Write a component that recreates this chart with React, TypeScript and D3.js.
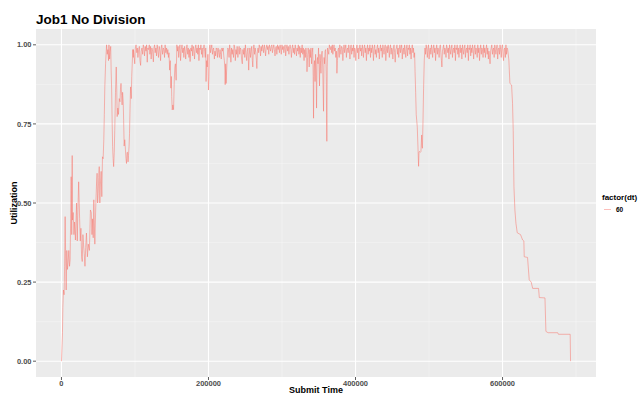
import React, { useEffect, useRef } from 'react';
import * as d3 from 'd3';

// submit time in thousands, utilization 0..1
const rampPoints: [number, number][] = [
  [0, 0], [1.4, 0.09], [1.9, 0.17], [2.7, 0.225], [3.6, 0.21], [4.3, 0.3], [5, 0.457], [5.6, 0.35],
  [6.4, 0.225], [7.3, 0.35], [8.2, 0.29], [9, 0.31], [10, 0.35], [11, 0.3], [11.8, 0.32], [12.5, 0.45],
  [13.2, 0.583], [14, 0.4], [14.6, 0.65], [15, 0.446], [16, 0.47], [17, 0.4], [17.8, 0.44], [19, 0.383],
  [20, 0.46], [20.6, 0.5], [21.5, 0.38], [22.4, 0.48], [23.4, 0.567], [24.7, 0.45], [25.6, 0.38], [26.5, 0.42],
  [27.4, 0.33], [28.3, 0.315], [29.2, 0.4], [30, 0.37], [31, 0.34], [32, 0.3], [33, 0.36], [34, 0.405],
  [35.3, 0.33], [36.5, 0.37], [38, 0.35], [38.8, 0.42], [39.4, 0.478], [40.6, 0.47], [41.5, 0.4], [42.4, 0.45],
  [43.2, 0.39], [44, 0.51], [45.4, 0.37], [46.1, 0.44], [46.8, 0.5], [47.7, 0.56], [48.5, 0.594], [49.2, 0.5],
  [50, 0.53], [50.7, 0.58], [51.4, 0.615], [52.2, 0.5], [53, 0.56], [54, 0.6], [54.9, 0.52], [55.8, 0.646],
  [56.7, 0.64], [57.6, 0.7], [58.3, 0.78], [59, 0.867], [60, 0.94], [60.7, 0.97], [61.4, 1.0], [62.3, 0.97],
  [63.2, 0.985], [64, 0.95], [64.6, 1.0], [65.5, 0.955], [66.2, 0.98], [67, 0.995], [67.6, 0.92], [68.3, 0.857],
  [69, 0.75], [69.6, 0.678], [70.3, 0.64], [71, 0.615], [71.8, 0.66], [72.5, 0.73], [73.5, 0.85], [74.5, 0.93],
  [75.2, 0.86], [75.8, 0.773], [76.7, 0.8], [77.6, 0.78], [78.6, 0.83], [79.6, 0.82], [80.3, 0.86], [81, 0.878],
  [81.8, 0.84], [82.5, 0.81], [83.2, 0.85], [84, 0.82], [84.6, 0.76], [85.3, 0.68], [86.1, 0.7], [87, 0.67],
  [87.8, 0.64], [88.5, 0.625], [89.3, 0.66], [90, 0.66], [90.6, 0.63], [91.2, 0.65], [92, 0.68], [92.6, 0.72],
  [93.3, 0.8], [94, 0.867], [95, 0.83], [95.6, 0.9], [96.3, 0.94], [97, 0.985], [97.8, 0.96],
];

const plateauPoints: [number, number][] = [
  [98, 0.985], [99, 0.96], [99.7, 0.94], [100.5, 0.99], [101.5, 1.0], [102.5, 0.975], [103.2, 0.99], [104, 0.96],
  [105, 0.985], [106, 0.995], [106.8, 0.95], [107.7, 0.935], [108.5, 0.98], [109.5, 0.99], [110.5, 0.97], [111.3, 1.0],
  [112.2, 0.99], [113, 0.965], [114, 0.995], [115, 0.98], [115.8, 1.0], [116.7, 0.945], [117.5, 0.99], [118.5, 0.985],
  [119.5, 1.0], [120.3, 0.97], [121.2, 0.995], [122, 0.955], [123, 0.99], [124, 0.98], [125, 0.946], [125.8, 0.99],
  [126.7, 1.0], [127.5, 0.975], [128.5, 0.99], [129.3, 0.965], [130.2, 1.0], [131, 0.985], [132, 0.96], [133, 0.995],
  [134, 0.98], [134.8, 0.95], [135.7, 0.99], [136.5, 1.0], [137.5, 0.97], [138.5, 0.99], [139.3, 0.985], [140.2, 0.96],
  [141, 1.0], [142, 0.975], [143, 0.99], [143.8, 0.97], [144.7, 0.985], [145.5, 0.96], [146.3, 0.975], [147.2, 0.92],
  [148, 0.95], [148.8, 0.863], [149.5, 0.9], [150, 0.836], [150.7, 0.794], [151.5, 0.81], [152.5, 0.795], [153.5, 0.89],
  [154.3, 0.93], [155, 0.94], [156, 0.888], [157, 1.0], [157.8, 0.98], [158.7, 0.995], [159.5, 0.96], [160.4, 0.99],
  [161.2, 1.0], [162, 0.95], [163, 0.985], [164, 1.0], [164.8, 0.975], [165.7, 0.99], [166.5, 0.96], [167.4, 0.995],
  [168.2, 0.98], [169, 0.955], [170, 0.99], [170.8, 1.0], [171.7, 0.97], [172.5, 0.99], [173.4, 0.96], [174.2, 0.985],
  [175, 0.947], [176, 0.99], [176.8, 0.98], [177.7, 1.0], [178.5, 0.965], [179.4, 0.995], [180.2, 0.985], [181, 0.955],
  [182, 0.99], [182.8, 1.0], [183.7, 0.975], [184.5, 0.99], [185.4, 0.97], [186.2, 1.0], [187, 0.95], [188, 0.99],
  [188.8, 0.985], [189.7, 1.0], [190.5, 0.97], [191.4, 0.99], [192.2, 0.96], [193, 0.985], [194, 1.0], [194.8, 0.98],
  [195.6, 0.96], [196.3, 0.99], [196.7, 0.884], [197.5, 0.95], [198.3, 0.93], [199.2, 0.97], [200, 0.857], [200.6, 0.9],
  [201.2, 0.99], [202, 1.0], [202.8, 0.975], [203.7, 0.99], [204.5, 1.0], [205.4, 0.97], [206.2, 0.985], [207, 0.99],
  [208, 0.955], [208.8, 0.98], [209.7, 0.965], [210.5, 0.99], [211.4, 0.985], [212.2, 0.96], [213, 0.99], [214, 0.975],
  [214.8, 0.96], [215.7, 0.985], [216.5, 0.97], [217.4, 0.955], [218.2, 0.99], [219, 0.98], [220, 0.99], [220.8, 0.965],
  [221.6, 0.95], [222.3, 0.92], [222.7, 0.874], [223.4, 0.94], [224, 0.878], [224.7, 0.92], [225.5, 0.96], [226.3, 0.99],
  [227.2, 0.985], [228, 0.96], [228.8, 1.0], [229.7, 0.98], [230.5, 0.945], [231.4, 0.99], [232.2, 0.97], [233, 0.985],
  [234, 0.96], [234.8, 1.0], [235.7, 0.99], [236.5, 0.95], [237.4, 0.985], [238.2, 0.97], [239, 0.995], [240, 0.96],
  [240.8, 0.98], [241.7, 0.995], [242.5, 0.97], [243.4, 0.99], [244.2, 0.985], [245, 0.955], [246, 0.94], [246.8, 0.985],
  [247.7, 0.97], [248.5, 0.99], [249.4, 0.96], [250.2, 1.0], [251, 0.975], [252, 0.95], [252.8, 0.98], [253.7, 0.99],
  [254.7, 0.92], [255.5, 0.97], [256.3, 0.99], [257.2, 0.96], [258, 0.98], [258.8, 0.995], [259.6, 0.95], [260.3, 0.93],
  [261, 0.985], [261.8, 1.0], [262.7, 0.97], [263.5, 0.99], [264.4, 0.975], [265.2, 0.95], [265.8, 0.925], [266.6, 0.98],
  [267.4, 0.99], [268.2, 0.975], [269, 1.0], [270, 0.99], [270.8, 0.965], [271.7, 0.995], [272.5, 0.98], [273.4, 1.0],
  [274.2, 0.99], [275, 0.975], [276, 1.0], [276.8, 0.985], [277.7, 0.965], [278.5, 0.99], [279.4, 1.0], [280.2, 0.985],
  [281, 0.995], [282, 0.97], [282.8, 1.0], [283.7, 0.99], [284.5, 0.98], [285.4, 0.995], [286.2, 1.0], [287, 0.975],
  [288, 0.99], [288.8, 1.0], [289.7, 0.985], [290.5, 0.965], [291.4, 0.99], [292.2, 0.995], [293, 0.97], [294, 1.0],
  [294.8, 0.985], [295.7, 0.995], [296.5, 0.975], [297.4, 1.0], [298.2, 0.99], [299, 0.97], [300, 1.0], [300.8, 0.985],
  [301.7, 0.995], [302.5, 0.975], [303.4, 0.99], [304.2, 1.0], [305, 0.965], [306, 0.99], [306.8, 1.0], [307.7, 0.98],
  [308.5, 0.995], [309.4, 0.97], [310.2, 0.99], [311, 1.0], [312, 0.985], [312.8, 0.96], [313.7, 0.99], [314.5, 1.0],
  [315.4, 0.975], [316.2, 0.99], [317, 0.97], [318, 1.0], [318.8, 0.985], [319.7, 0.965], [320.5, 0.99], [321.4, 0.98],
  [322.2, 1.0], [323, 0.97], [324, 0.995], [324.8, 0.96], [325.7, 0.99], [326.5, 0.975], [327.4, 1.0], [328.2, 0.97],
  [329, 0.99], [330, 0.95], [330.8, 0.985], [331.7, 0.96], [332.5, 0.99], [333.4, 0.97], [334, 0.915], [334.8, 0.96],
  [335.6, 0.99], [336.4, 0.97], [337, 0.93], [337.8, 0.985], [338.6, 0.96], [339.4, 0.99], [340.2, 0.94], [341, 0.975],
  [341.8, 0.99], [342.4, 0.9], [342.9, 0.768], [343.5, 0.93], [344.2, 0.95], [345, 0.884], [345.7, 0.97], [346.4, 0.92],
  [347, 0.8], [347.7, 0.95], [348.3, 0.96], [349, 0.94], [349.7, 0.99], [350.4, 0.93], [351, 0.87], [351.7, 0.97],
  [352.3, 0.95], [353, 0.91], [353.8, 0.97], [354.6, 0.98], [355.4, 0.93], [356, 0.85], [356.5, 0.79], [357.2, 0.96],
  [357.9, 0.94], [358.6, 0.98], [359.4, 0.985], [360.2, 0.9], [361, 0.695], [361.5, 0.93], [362, 0.99], [362.8, 0.98],
  [363.6, 0.97], [364.4, 1.0], [365.2, 0.99], [366, 0.985], [366.8, 0.995], [367.6, 0.975], [368.4, 1.0], [369.2, 0.97],
  [370, 0.99], [370.8, 1.0], [371.6, 0.98], [372.4, 0.99], [373.2, 0.96], [374, 0.98], [374.7, 0.91], [375.4, 0.95],
  [376.2, 0.985], [377, 0.99], [377.8, 0.96], [378.6, 1.0], [379.4, 0.985], [380.2, 0.97], [381, 0.995], [382, 0.99],
  [382.8, 0.95], [383.6, 0.985], [384.4, 1.0], [385.2, 0.975], [386, 0.99], [386.8, 1.0], [387.6, 0.96], [388.4, 0.985],
  [389.2, 0.99], [390, 0.975], [390.8, 1.0], [391.6, 0.985], [392.4, 0.955], [393.2, 0.99], [394, 1.0], [394.8, 0.97],
  [395.6, 0.99], [396.4, 0.98], [397.2, 1.0], [398, 0.96], [398.8, 0.99], [399.6, 0.985], [400.4, 0.95], [401.2, 0.99],
  [402, 1.0], [402.8, 0.975], [403.6, 0.99], [404.4, 0.955], [405.2, 0.985], [406, 1.0], [406.8, 0.98], [407.6, 0.99],
  [408.4, 0.965], [409.2, 1.0], [410, 0.985], [410.8, 0.96], [411.6, 0.99], [412.4, 1.0], [413.2, 0.975], [414, 0.99],
  [414.8, 0.95], [415.6, 0.985], [416.4, 1.0], [417.2, 0.97], [418, 0.99], [418.8, 0.98], [419.6, 1.0], [420.4, 0.96],
  [421.2, 0.99], [422, 0.975], [422.8, 1.0], [423.6, 0.985], [424.4, 0.95], [425.2, 0.99], [426, 1.0], [426.8, 0.97],
  [427.6, 0.985], [428.4, 0.96], [429.2, 0.99], [430, 1.0], [430.8, 0.975], [431.6, 0.99], [432.4, 0.955], [433.2, 0.985],
  [434, 1.0], [434.8, 0.98], [435.6, 0.99], [436.4, 0.96], [437.2, 1.0], [438, 0.985], [438.8, 0.97], [439.6, 0.99],
  [440.4, 1.0], [441.2, 0.95], [442, 0.98], [442.8, 0.995], [443.6, 0.975], [444.4, 1.0], [445.2, 0.985], [446, 0.96],
  [446.8, 0.99], [447.6, 1.0], [448.4, 0.97], [449.2, 0.99], [450, 0.985], [450.8, 0.955], [451.6, 0.99], [452.4, 1.0],
  [453.2, 0.975], [454, 0.945], [454.8, 0.985], [455.6, 0.99], [456.4, 1.0], [457.2, 0.97], [458, 0.99], [458.8, 0.96],
  [459.6, 0.985], [460.4, 1.0], [461.2, 0.975], [462, 0.99], [462.8, 1.0], [463.6, 0.955], [464.4, 0.985], [465.2, 0.99],
  [466, 0.97], [466.8, 1.0], [467.6, 0.98], [468.4, 0.96], [469.2, 0.99], [470, 1.0], [470.8, 0.965], [471.6, 0.99],
  [472.4, 0.985], [473.2, 1.0], [474, 0.97], [474.8, 0.99], [475.6, 0.955], [476.4, 0.985], [477.2, 1.0], [478, 0.975],
  [478.8, 0.99], [479.6, 0.96], [480.4, 0.975], [481, 0.916], [481.8, 0.85], [482.6, 0.779], [483.3, 0.76], [484, 0.74],
  [484.9, 0.68], [485.8, 0.616], [486.4, 0.66], [487, 0.663], [488, 0.66], [489, 0.663], [489.5, 0.69], [490, 0.715],
  [490.5, 0.68], [491, 0.673], [491.8, 0.76], [492.6, 0.863], [493.5, 0.95], [494.5, 0.99], [495.3, 0.97], [496.1, 1.0],
  [496.9, 0.985], [497.7, 0.96], [498.5, 0.99], [499.3, 1.0], [500.1, 0.955], [500.9, 0.985], [501.7, 0.99], [502.5, 0.97],
  [503.3, 1.0], [504.1, 0.985], [504.9, 0.96], [505.7, 0.99], [506.5, 1.0], [507.3, 0.975], [508.1, 0.99], [508.9, 0.95],
  [509.7, 0.985], [510.5, 1.0], [511.3, 0.97], [512.1, 0.99], [512.9, 0.985], [513.7, 0.96], [514.5, 0.99], [515.3, 1.0],
  [516.1, 0.975], [516.9, 0.95], [517.5, 0.93], [518.3, 0.98], [519.1, 0.99], [519.9, 1.0], [520.7, 0.97], [521.5, 0.99],
  [522.3, 0.985], [523.1, 0.96], [523.9, 1.0], [524.7, 0.99], [525.5, 0.975], [526.3, 0.99], [527.1, 0.955], [527.9, 1.0],
  [528.7, 0.985], [529.5, 0.97], [530.3, 0.99], [531.1, 1.0], [531.9, 0.96], [532.7, 0.985], [533.5, 0.99], [534.3, 0.975],
  [535.1, 1.0], [535.9, 0.95], [536.7, 0.99], [537.5, 0.985], [538.3, 1.0], [539.1, 0.97], [539.9, 0.99], [540.7, 0.96],
  [541.5, 0.985], [542.3, 1.0], [543.1, 0.975], [543.9, 0.99], [544.7, 0.955], [545.5, 1.0], [546.3, 0.985], [547.1, 0.97],
  [547.9, 0.99], [548.7, 1.0], [549.5, 0.96], [550.3, 0.985], [551.1, 0.99], [551.9, 0.975], [552.7, 1.0], [553.5, 0.95],
  [554.3, 0.99], [555.1, 0.985], [555.9, 1.0], [556.7, 0.965], [557.5, 0.99], [558.3, 0.975], [559.1, 1.0], [559.9, 0.985],
  [560.7, 0.955], [561.5, 0.99], [562.3, 1.0], [563.1, 0.97], [563.9, 0.99], [564.7, 0.985], [565.5, 0.96], [566.3, 1.0],
  [567.1, 0.975], [567.9, 0.99], [568.7, 0.95], [569.5, 0.985], [570.3, 1.0], [571.1, 0.97], [571.9, 0.99], [572.7, 0.985],
  [573.5, 0.96], [574.3, 1.0], [575.1, 0.975], [575.9, 0.99], [576.7, 0.96], [577.5, 0.985], [578.3, 1.0], [579.1, 0.97],
  [579.9, 0.99], [580.7, 0.955], [581.5, 0.98], [582.3, 0.96], [583, 0.94], [583.8, 0.98], [584.6, 0.99], [585.4, 1.0],
  [586.2, 0.97], [587, 0.985], [587.8, 0.99], [588.6, 0.96], [589.4, 1.0], [590.2, 0.985], [591, 0.97], [591.8, 0.99],
  [592.6, 1.0], [593.4, 0.955], [594.2, 0.985], [595, 0.99], [595.8, 0.97], [596.6, 1.0], [597.4, 0.985], [598.2, 0.96],
  [599, 0.99], [599.8, 1.0], [600.6, 0.965], [601.4, 0.95], [602.2, 0.985], [603, 0.99], [603.8, 0.96], [604.6, 1.0],
  [605.4, 0.97], [606.2, 0.99], [607, 0.985],
];

const tailPoints: [number, number][] = [
  [608.6, 0.952], [610, 0.878], [612.3, 0.873], [613.6, 0.815], [614.5, 0.73], [615.5, 0.551], [616.8, 0.478],
  [618.2, 0.436], [620, 0.406], [624.5, 0.4], [627.3, 0.383], [629, 0.38], [629.5, 0.33], [634, 0.328],
  [636.3, 0.257], [639, 0.25], [641, 0.23], [649, 0.23], [650, 0.201], [657.7, 0.2], [659, 0.094], [662, 0.09],
  [675, 0.09], [676, 0.085], [692, 0.085], [692.5, 0],
];

const xTicks = [0, 200000, 400000, 600000];
const xMinor = [100000, 300000, 500000, 700000];
const yTicks = [0, 0.25, 0.5, 0.75, 1];
const yMinor = [0.125, 0.375, 0.625, 0.875];
const legendLevels = ['60'];

const FONT = '"Liberation Sans", Arial, Helvetica, sans-serif';
const LINE_COLOR = '#F8766D';

const App = () => {
  const svgRef = useRef<SVGSVGElement>(null);

  useEffect(() => {
    const svg = d3.select(svgRef.current);
    svg.selectAll('*').remove();

    const width = 643;
    const height = 394;
    const panel = { left: 36, right: 596, top: 29, bottom: 377 };

    const data = [...rampPoints, ...plateauPoints, ...tailPoints].map(([t, u]) => ({ t: t * 1000, u }));

    const [xmin, xmax] = d3.extent(data, d => d.t) as [number, number];
    const xPad = (xmax - xmin) * 0.05;
    const xScale = d3.scaleLinear()
      .domain([xmin - xPad, xmax + xPad])
      .range([panel.left, panel.right]);

    const yScale = d3.scaleLinear()
      .domain([-0.05, 1.05])
      .range([panel.bottom, panel.top]);

    svg.attr('width', width).attr('height', height)
      .style('display', 'block')
      .style('font-family', FONT);

    svg.append('rect')
      .attr('width', width).attr('height', height)
      .attr('fill', '#ffffff');

    // panel
    svg.append('rect')
      .attr('x', panel.left).attr('y', panel.top)
      .attr('width', panel.right - panel.left)
      .attr('height', panel.bottom - panel.top)
      .attr('fill', '#EBEBEB');

    const grid = svg.append('g');
    grid.selectAll('.xminor').data(xMinor.filter(v => xScale(v) < panel.right)).join('line')
      .attr('x1', d => xScale(d)).attr('x2', d => xScale(d))
      .attr('y1', panel.top).attr('y2', panel.bottom)
      .attr('stroke', '#F5F5F5').attr('stroke-width', 0.55);
    grid.selectAll('.yminor').data(yMinor).join('line')
      .attr('y1', d => yScale(d)).attr('y2', d => yScale(d))
      .attr('x1', panel.left).attr('x2', panel.right)
      .attr('stroke', '#F5F5F5').attr('stroke-width', 0.55);
    grid.selectAll('.xmajor').data(xTicks).join('line')
      .attr('x1', d => xScale(d)).attr('x2', d => xScale(d))
      .attr('y1', panel.top).attr('y2', panel.bottom)
      .attr('stroke', '#ffffff').attr('stroke-width', 1.1);
    grid.selectAll('.ymajor').data(yTicks).join('line')
      .attr('y1', d => yScale(d)).attr('y2', d => yScale(d))
      .attr('x1', panel.left).attr('x2', panel.right)
      .attr('stroke', '#ffffff').attr('stroke-width', 1.1);

    // series
    const line = d3.line<{ t: number; u: number }>()
      .x(d => xScale(d.t))
      .y(d => yScale(d.u));

    svg.append('path')
      .datum(data)
      .attr('d', line)
      .attr('fill', 'none')
      .attr('stroke', LINE_COLOR)
      .attr('stroke-opacity', 0.88)
      .attr('stroke-width', 0.6);

    // axes
    const yAxis = svg.append('g');
    yAxis.selectAll('line').data(yTicks).join('line')
      .attr('x1', panel.left - 3).attr('x2', panel.left)
      .attr('y1', d => yScale(d)).attr('y2', d => yScale(d))
      .attr('stroke', '#333333').attr('stroke-width', 0.8);
    yAxis.selectAll('text').data(yTicks).join('text')
      .attr('x', panel.left - 4.5)
      .attr('y', d => yScale(d))
      .attr('dy', '0.35em')
      .attr('text-anchor', 'end')
      .attr('font-size', 7.5)
      .attr('font-weight', 'bold')
      .attr('fill', '#4D4D4D')
      .text(d => d3.format('.2f')(d));

    const xAxis = svg.append('g');
    xAxis.selectAll('line').data(xTicks).join('line')
      .attr('x1', d => xScale(d)).attr('x2', d => xScale(d))
      .attr('y1', panel.bottom).attr('y2', panel.bottom + 3)
      .attr('stroke', '#333333').attr('stroke-width', 0.8);
    xAxis.selectAll('text').data(xTicks).join('text')
      .attr('x', d => xScale(d))
      .attr('y', panel.bottom + 8.5)
      .attr('text-anchor', 'middle')
      .attr('font-size', 7.5)
      .attr('font-weight', 'bold')
      .attr('fill', '#4D4D4D')
      .text(d => String(d));

    // titles
    svg.append('text')
      .attr('x', panel.left).attr('y', 23.5)
      .attr('font-size', 13.5).attr('font-weight', 'bold')
      .attr('fill', '#000')
      .text('Job1 No Division');

    svg.append('text')
      .attr('x', (panel.left + panel.right) / 2)
      .attr('y', 393)
      .attr('text-anchor', 'middle')
      .attr('font-size', 9).attr('font-weight', 'bold')
      .attr('fill', '#000')
      .text('Submit Time');

    svg.append('text')
      .attr('transform', `translate(16.5, ${(panel.top + panel.bottom) / 2}) rotate(-90)`)
      .attr('text-anchor', 'middle')
      .attr('font-size', 9).attr('font-weight', 'bold')
      .attr('fill', '#000')
      .text('Utilization');

    // legend
    const legend = svg.append('g').attr('transform', 'translate(602, 0)');
    legend.append('text')
      .attr('x', 0).attr('y', 199.5)
      .attr('font-size', 8).attr('font-weight', 'bold')
      .attr('fill', '#000')
      .text('factor(dt)');
    legendLevels.forEach((lvl, i) => {
      const cy = 209.5 + i * 12;
      legend.append('line')
        .attr('x1', 2).attr('x2', 9)
        .attr('y1', cy).attr('y2', cy)
        .attr('stroke', LINE_COLOR).attr('stroke-opacity', 0.6)
        .attr('stroke-width', 0.8);
      legend.append('text')
        .attr('x', 14).attr('y', cy)
        .attr('dy', '0.35em')
        .attr('font-size', 6.5).attr('font-weight', 'bold')
        .attr('fill', '#000')
        .text(lvl);
    });
  }, []);

  // fixed wrapper keeps the page from overflowing the window
  return (
    <div style={{ position: 'fixed', left: 0, top: 0, width: 643, height: 394, overflow: 'hidden' }}>
      <svg ref={svgRef}></svg>
    </div>
  );
};

export default App;
